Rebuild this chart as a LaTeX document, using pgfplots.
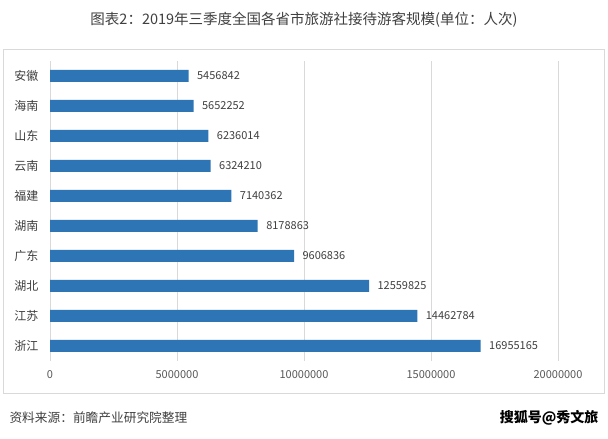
\documentclass[border=0pt]{standalone}
\usepackage{pgfplots}
\pgfplotsset{compat=1.18}
\usepackage{fontspec}
\setmainfont{Noto Sans CJK SC}
\definecolor{barblue}{HTML}{2E75B6}
\definecolor{txtgray}{HTML}{404040}
\definecolor{tickgray}{HTML}{595959}
\definecolor{gridgray}{HTML}{D9D9D9}
\begin{document}
\begin{tikzpicture}[x=1pt,y=1pt]
\fill[white] (0,0) rectangle (608,439);
\draw[gridgray, line width=0.8pt] (3.5,439-393) rectangle (604.5,439-49);
\node[text=txtgray, font=\fontsize{14.5}{16}\selectfont] at (304,439-20) {图表2：2019年三季度全国各省市旅游社接待游客规模(单位：人次)};
\node[text=txtgray, font=\fontsize{12.7}{14}\selectfont, anchor=west] at (6,439-418) {资料来源：前瞻产业研究院整理};
\node[text=black, font=\bfseries\fontsize{14}{15}\selectfont, anchor=east] at (602,439-418) {搜狐号@秀文旅};
\begin{axis}[
  at={(50pt,78pt)}, anchor=south west,
  scale only axis, width=508pt, height=300pt,
  xbar, bar width=12pt,
  xmin=0, xmax=20000000,
  ymin=-0.5, ymax=9.5,
  ytick={0,...,9},
  yticklabels={浙江,江苏,湖北,广东,湖南,福建,云南,山东,海南,安徽},
  xtick={0,5000000,10000000,15000000,20000000},
  scaled x ticks=false,
  xticklabel style={/pgf/number format/fixed, /pgf/number format/1000 sep={}, text=tickgray, font=\fontsize{11}{12}\selectfont},
  /pgf/number format/assume math mode=true,
  yticklabel style={text=txtgray, font=\fontsize{12}{13}\selectfont, xshift=-8pt},
  xmajorgrids, grid style={gridgray, line width=0.8pt},
  axis line style={draw=none},
  major tick length=0pt,
  xticklabel shift=6pt,
  nodes near coords,
  nodes near coords style={text=txtgray, font=\fontsize{11}{12}\selectfont, anchor=west, xshift=5pt},
  point meta=explicit symbolic,
]
\addplot[fill=barblue, draw=none] coordinates {
  (16955165,0) [16955165]
  (14462784,1) [14462784]
  (12559825,2) [12559825]
  (9606836,3) [9606836]
  (8178863,4) [8178863]
  (7140362,5) [7140362]
  (6324210,6) [6324210]
  (6236014,7) [6236014]
  (5652252,8) [5652252]
  (5456842,9) [5456842]
};
\end{axis}
\end{tikzpicture}
\end{document}
